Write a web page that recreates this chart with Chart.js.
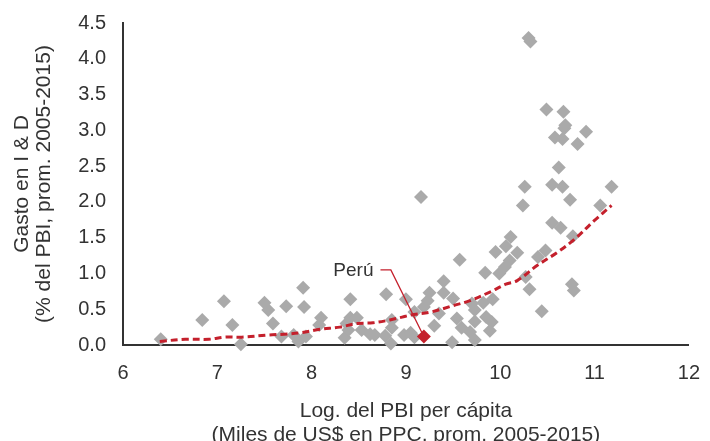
<!DOCTYPE html>
<html>
<head>
<meta charset="utf-8">
<script src="https://cdn.jsdelivr.net/npm/chart.js@4"></script>
<style>
  html, body { margin: 0; padding: 0; background: #fff; }
  #wrap { width: 710px; height: 441px; }
</style>
</head>
<body>
<div id="wrap"><canvas id="rdChart" width="710" height="441"></canvas></div>
<script>
// ==================== DATOS ====================
// Log. del PBI per cápita (eje X) y gasto en I&D, % del PBI (eje Y)
const countryX = [
    6.40, 6.84, 7.07, 7.16, 7.25, 7.50, 7.54, 7.59, 7.68, 7.73,
    7.81, 7.86, 7.91, 7.92, 7.94, 8.08, 8.10, 8.35, 8.37, 8.39,
    8.41, 8.41, 8.48, 8.53, 8.62, 8.67, 8.79, 8.78, 8.84, 8.85,
    8.85, 8.98, 9.00, 9.05, 9.09, 9.09, 9.16, 9.19, 9.23, 9.25,
    9.30, 9.35, 9.40, 9.40, 9.49, 9.50, 9.54, 9.57, 9.59, 9.68,
    9.70, 9.73, 9.73, 9.73, 9.82, 9.84, 9.85, 9.89, 9.91, 9.92,
    9.95, 9.99, 10.05, 10.10, 10.06, 10.11, 10.18, 10.24, 10.26, 10.27,
    10.31, 10.30, 10.32, 10.40, 10.44, 10.48, 10.49, 10.55, 10.55, 10.58,
    10.62, 10.64, 10.66, 10.66, 10.67, 10.68, 10.69, 10.74, 10.76, 10.77,
    10.78, 10.82, 10.91, 11.06, 11.18
];
const countryY = [
    0.08, 0.35, 0.61, 0.28, 0.01, 0.59, 0.49, 0.30, 0.12, 0.54,
    0.14, 0.05, 0.80, 0.53, 0.12, 0.28, 0.38, 0.10, 0.30, 0.21,
    0.64, 0.38, 0.38, 0.21, 0.15, 0.14, 0.71, 0.13, 0.02, 0.35,
    0.24, 0.14, 0.64, 0.17, 0.11, 0.46, 2.07, 0.53, 0.62, 0.73,
    0.27, 0.44, 0.89, 0.73, 0.04, 0.65, 0.37, 1.19, 0.24, 0.18,
    0.58, 0.49, 0.33, 0.07, 0.59, 1.01, 0.39, 0.20, 0.32, 0.64,
    1.30, 1.00, 1.09, 1.18, 1.38, 1.51, 1.29, 1.95, 2.21, 0.95,
    0.78, 4.29, 4.24, 1.23, 0.47, 1.32, 3.29, 2.24, 1.71, 2.90,
    2.48, 1.64, 2.21, 2.88, 3.26, 3.03, 3.07, 2.03, 0.85, 1.52,
    0.76, 2.81, 2.98, 1.95, 2.21
];

// Perú
const peruX = 9.19;
const peruY = 0.12;
const peruLabel = 'Perú';

// Línea de tendencia
const trendX = [6.39, 6.66, 6.91, 7.08, 7.26, 7.54, 7.71, 7.88, 8.09, 8.30, 8.48, 8.65, 8.83,
                8.96, 9.05, 9.26, 9.50, 9.68, 9.89, 10.06, 10.18, 10.39, 10.60, 10.79, 10.99, 11.18];
const trendY = [0.05, 0.08, 0.08, 0.11, 0.11, 0.14, 0.15, 0.17, 0.22, 0.25, 0.30, 0.31, 0.35,
                0.39, 0.42, 0.46, 0.55, 0.62, 0.74, 0.85, 0.90, 1.11, 1.29, 1.48, 1.73, 1.95];

// Línea guía de la etiqueta "Perú"
const leaderX = [8.73, 8.84, 9.17];
const leaderY = [1.05, 1.05, 0.17];

// Ejes
const xTicks = [6, 7, 8, 9, 10, 11, 12];
const yTicks = [0, 0.5, 1, 1.5, 2, 2.5, 3, 3.5, 4, 4.5];
const xTitle = ['Log. del PBI per cápita', '(Miles de US$ en PPC, prom. 2005-2015)'];
const yTitle = ['Gasto en I & D', '(% del PBI, prom. 2005-2015)'];

// ==================== GRÁFICO ====================
const FONT = "'Liberation Sans', Arial, sans-serif";
const TEXT = '#333333';
const GREY = '#aaaaaa';
const RED = '#c4202c';

const toPoints = (xs, ys) => xs.map((x, i) => ({ x: x, y: ys[i] }));

// etiqueta "Perú" al inicio de la línea guía
const peruLabelPlugin = {
    id: 'peruLabel',
    afterDatasetsDraw(chart) {
        const { ctx, scales } = chart;
        const px = scales.x.getPixelForValue(leaderX[0]);
        const py = scales.y.getPixelForValue(leaderY[0]);
        ctx.save();
        ctx.font = '19px ' + FONT;
        ctx.fillStyle = TEXT;
        ctx.textAlign = 'right';
        ctx.textBaseline = 'middle';
        ctx.fillText(peruLabel, px - 7, py + 1);
        ctx.restore();
    }
};

new Chart(document.getElementById('rdChart'), {
    type: 'scatter',
    data: {
        datasets: [{
            label: 'Tendencia',
            type: 'line',
            data: toPoints(trendX, trendY),
            borderColor: RED,
            borderWidth: 3,
            borderDash: [7, 4],
            pointRadius: 0,
            tension: 0.35,
            fill: false,
            order: 1
        }, {
            label: 'Guía',
            type: 'line',
            data: toPoints(leaderX, leaderY),
            borderColor: RED,
            borderWidth: 1.3,
            pointRadius: 0,
            tension: 0,
            fill: false,
            order: 0
        }, {
            label: 'Países',
            data: toPoints(countryX, countryY),
            pointStyle: 'rectRot',
            pointRadius: 7,
            backgroundColor: GREY,
            borderColor: GREY,
            borderWidth: 0,
            clip: false,
            order: 2
        }, {
            label: 'Perú',
            data: [{ x: peruX, y: peruY }],
            pointStyle: 'rectRot',
            pointRadius: 7,
            backgroundColor: RED,
            borderColor: RED,
            borderWidth: 0,
            clip: false,
            order: 0
        }]
    },
    options: {
        responsive: false,
        animation: false,
        layout: { padding: { top: 19, right: 14, left: 0, bottom: 0 } },
        plugins: {
            legend: { display: false },
            tooltip: { enabled: false }
        },
        scales: {
            x: {
                type: 'linear',
                min: 6,
                max: 12,
                afterBuildTicks: (axis) => { axis.ticks = xTicks.map(v => ({ value: v })); },
                afterFit: (axis) => { axis.height = 96; },
                grid: { display: false, drawTicks: true, tickLength: 6, tickColor: '#333', tickWidth: 2 },
                border: { display: true, color: '#333', width: 2 },
                ticks: {
                    color: TEXT,
                    font: { family: FONT, size: 20 },
                    padding: 10,
                    maxRotation: 0
                },
                title: {
                    display: true,
                    text: xTitle,
                    color: TEXT,
                    font: { family: FONT, size: 21, lineHeight: 1.15 },
                    padding: { top: 0, bottom: -6 }
                }
            },
            y: {
                type: 'linear',
                min: 0,
                max: 4.5,
                afterBuildTicks: (axis) => { axis.ticks = yTicks.map(v => ({ value: v })); },
                afterFit: (axis) => { axis.width = 123; },
                grid: { display: false, drawTicks: true, tickLength: 6, tickColor: '#333', tickWidth: 2 },
                border: { display: true, color: '#333', width: 2 },
                ticks: {
                    color: TEXT,
                    font: { family: FONT, size: 20 },
                    padding: 11,
                    callback: (v) => v.toFixed(1)
                },
                title: {
                    display: true,
                    text: yTitle,
                    color: TEXT,
                    font: { family: FONT, size: 21, lineHeight: 1.05 },
                    padding: { top: 11, bottom: 0 }
                }
            }
        }
    },
    plugins: [peruLabelPlugin]
});
</script>
</body>
</html>
